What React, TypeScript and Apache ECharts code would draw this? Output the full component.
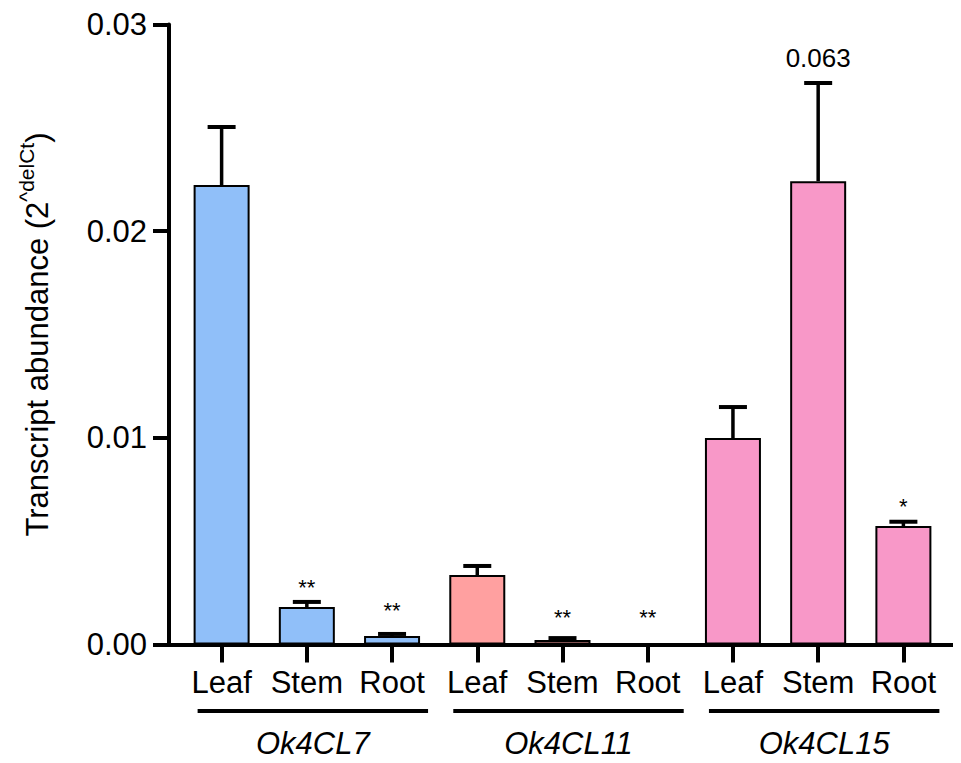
import React, { useEffect, useRef } from "react";
import * as echarts from "echarts";

const categories = ["Leaf", "Stem", "Root", "Leaf", "Stem", "Root", "Leaf", "Stem", "Root"];
const genes = ["Ok4CL7", "Ok4CL11", "Ok4CL15"];
const means = [0.02223, 0.00181, 0.00041, 0.00336, 0.00022, 0.00001, 0.00999, 0.02242, 0.00573];
const upper = [0.02504, 0.00206, 0.00051, 0.0038, 0.00031, 0.00001, 0.01149, 0.02717, 0.00594];
const barColors = [
  "#90BFF9", "#90BFF9", "#90BFF9",
  "#FFA0A0", "#FFA0A0", "#FFA0A0",
  "#F898C8", "#F898C8", "#F898C8",
];
const annotText = ["", "**", "**", "", "**", "**", "", "0.063", "*"];
const annotY = [null, 0.00274, 0.00164, null, 0.00133, 0.00133, null, 0.02838, 0.00667];
const yMin = 0;
const yMax = 0.03;
const yStep = 0.01;

const FONT = '"Liberation Sans", Arial, Helvetica, sans-serif';

export default function App() {
  const ref = useRef<HTMLDivElement>(null);
  useEffect(() => {
    const chart = echarts.init(ref.current!, null, { renderer: "svg" });
    const annItems = annotText
      .map((t, i) => ({ t, i, y: annotY[i] }))
      .filter((a) => a.t);

    const option: any = {
      animation: false,
      grid: [
        { left: 156, right: 0, top: 16.5, bottom: 118.5 },
        { left: 171, right: 15, top: 16.5, bottom: 118.5 },
      ],
      xAxis: [
        {
          gridIndex: 0,
          type: "value",
          min: 0,
          max: 1,
          axisLine: { show: true, onZero: false, lineStyle: { color: "#000", width: 4 } },
          axisTick: { show: false },
          axisLabel: { show: false },
          splitLine: { show: false },
        },
        {
          gridIndex: 1,
          type: "category",
          data: categories,
          axisLine: { show: false },
          axisTick: { show: true, alignWithLabel: true, length: 18, lineStyle: { color: "#000", width: 4 } },
          axisLabel: { interval: 0, margin: 22, fontSize: 31, fontFamily: FONT, color: "#000" },
          splitLine: { show: false },
        },
      ],
      yAxis: [
        {
          gridIndex: 0,
          type: "value",
          min: yMin,
          max: yMax,
          interval: yStep,
          axisLine: { show: true, lineStyle: { color: "#000", width: 4 } },
          axisTick: { show: true, length: 16, lineStyle: { color: "#000", width: 4 } },
          axisLabel: {
            margin: 22,
            fontSize: 31,
            fontFamily: FONT,
            color: "#000",
            formatter: (v: number) => v.toFixed(2),
          },
          splitLine: { show: false },
          name: "{n|Transcript abundance (2}{sup|^delCt}{n|)}",
          nameLocation: "middle",
          nameGap: 116,
          nameRotate: 90,
          nameTextStyle: {
            color: "#000",
            fontFamily: FONT,
            fontSize: 31,
            rich: {
              n: { fontSize: 31, fontFamily: FONT, color: "#000", verticalAlign: "bottom" },
              sup: {
                fontSize: 21,
                fontFamily: FONT,
                color: "#000",
                verticalAlign: "top",
                padding: [0, 0, 16, 0],
              },
            },
          },
        },
        { gridIndex: 1, type: "value", min: yMin, max: yMax, show: false },
      ],
      series: [
        {
          type: "bar",
          xAxisIndex: 1,
          yAxisIndex: 1,
          barWidth: 56,
          data: means.map((v, i) => ({ value: v, itemStyle: { color: barColors[i] } })),
          itemStyle: { borderColor: "#000", borderWidth: 2 },
        },
        {
          type: "custom",
          xAxisIndex: 1,
          yAxisIndex: 1,
          z: 3,
          data: means.map((m, i) => [i, m, upper[i]]),
          renderItem: (params: any, api: any) => {
            const i = api.value(0);
            const m = api.value(1);
            const u = api.value(2);
            if (!(u > m)) return { type: "group", children: [] };
            const b = api.coord([i, m]);
            const t = api.coord([i, u]);
            return {
              type: "group",
              children: [
                { type: "line", shape: { x1: b[0], y1: b[1], x2: t[0], y2: t[1] }, style: { stroke: "#000", lineWidth: 3.5 } },
                { type: "line", shape: { x1: t[0] - 14, y1: t[1], x2: t[0] + 14, y2: t[1] }, style: { stroke: "#000", lineWidth: 4 } },
              ],
            };
          },
        },
        {
          type: "custom",
          xAxisIndex: 1,
          yAxisIndex: 1,
          z: 4,
          data: annItems.map((a) => [a.i, a.y]),
          renderItem: (params: any, api: any) => {
            const a = annItems[params.dataIndex];
            const p = api.coord([api.value(0), api.value(1)]);
            return {
              type: "text",
              x: p[0],
              y: p[1],
              style: {
                text: a.t,
                fontSize: a.t === "0.063" ? 26 : 22,
                fontFamily: FONT,
                fill: "#000",
                align: "center",
                verticalAlign: "middle",
              },
            };
          },
        },
      ],
    };
    chart.setOption(option);

    const cx = (i: number) => chart.convertToPixel({ xAxisIndex: 1 }, i) as number;
    const axisY = chart.convertToPixel({ yAxisIndex: 0 }, 0) as number;
    const graphic: any[] = [];
    genes.forEach((g, gi) => {
      const l = cx(gi * 3) - 24;
      const r = cx(gi * 3 + 2) + 36;
      graphic.push({
        type: "line",
        shape: { x1: l, y1: axisY + 66.5, x2: r, y2: axisY + 66.5 },
        style: { stroke: "#000", lineWidth: 4 },
      });
      graphic.push({
        type: "text",
        x: (l + r) / 2,
        y: axisY + 98.5,
        style: {
          text: g,
          fontSize: 31,
          fontStyle: "italic",
          fontFamily: FONT,
          fill: "#000",
          align: "center",
          verticalAlign: "middle",
        },
      });
    });
    chart.setOption({ graphic });

    return () => chart.dispose();
  }, []);
  return <div ref={ref} style={{ width: 953, height: 755 }} />;
}
